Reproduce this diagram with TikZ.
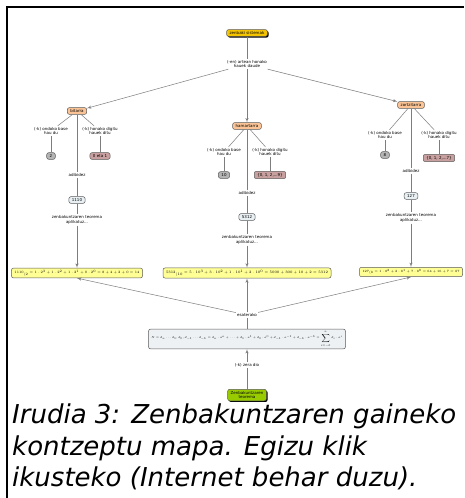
\documentclass[tikz,border=0pt]{standalone}
\usepackage{fontspec}
\setmainfont{DejaVu Sans}
\usetikzlibrary{arrows, positioning, shadows}

\definecolor{gold}{RGB}{245,196,0}
\definecolor{peach}{RGB}{250,196,150}
\definecolor{basegrey}{RGB}{180,180,180}
\definecolor{rose}{RGB}{201,160,160}
\definecolor{paleblue}{RGB}{233,240,244}
\definecolor{formyellow}{RGB}{255,255,150}
\definecolor{nbox}{RGB}{237,241,243}
\definecolor{leaf}{RGB}{153,204,0}
\definecolor{boxedge}{RGB}{90,90,90}
\definecolor{linkgrey}{RGB}{125,125,125}

\begin{document}
\begin{tikzpicture}[
      x=1pt, y=-1pt,
      node distance=10pt, on grid,
      box/.style={rectangle, draw=boxedge, line width=0.5pt, rounded corners=2pt, inner xsep=3pt, inner ysep=1.8pt, font=\fontsize{4}{4.8}\selectfont, align=center},
      sysbox/.style={box, fill=gold, drop shadow={shadow xshift=1.2pt, shadow yshift=-1.2pt, fill=black, opacity=1}},
      system/.style={box, fill=peach},
      basebox/.style={box, fill=basegrey},
      digitbox/.style={box, fill=rose},
      examplebox/.style={box, fill=paleblue},
      formula/.style={box, fill=formyellow, inner ysep=2pt},
      general/.style={box, fill=nbox, inner ysep=1.5pt},
      theorem/.style={box, fill=leaf, drop shadow={shadow xshift=1.2pt, shadow yshift=-1.2pt, fill=black, opacity=1}},
      lbl/.style={font=\fontsize{4}{4.8}\selectfont, align=center, inner sep=1pt},
      caption/.style={font=\fontsize{26}{31.5}\selectfont\itshape, align=left, inner sep=0pt},
      link/.style={draw=linkgrey, line width=0.5pt},
      line/.style={link, -latex'}
    ]

    \path[use as bounding box, fill=white] (0,0) rectangle (464,498);
    \draw[line width=1.5pt] (7,498) -- (7,7) -- (464,7);

    % Top of the map
    \node[sysbox] (sys) at (247,33) {zenbaki sistemak};
    \node[lbl, below=31pt of sys] (artean) {(-en) artean honako\\hauek daude};
    \node[system] (bin) at (77,111) {bitarra};
    \node[system] (dec) at (247,126) {hamartarra};
    \node[system] (oct) at (411,105) {zortzitarra};

    % Binary branch
    \node[lbl, below left=20pt and 26pt of bin] (binbaselbl) {(-k) ondoko base\\hau du};
    \node[lbl, below right=20pt and 23pt of bin] (bindigitlbl) {(-k) honako digitu\\hauek ditu};
    \node[basebox, below=25pt of binbaselbl] (binbase) {2};
    \node[digitbox, below=25pt of bindigitlbl] (bindigit) {0 eta 1};
    \node[lbl, below=64pt of bin] (binex) {adibidez};
    \node[examplebox, below=25pt of binex] (binnum) {1110};
    \node[lbl, below=20pt of binnum] (binthm) {zenbakuntzaren teorema\\aplikatuz...};
    \node[formula, below=53pt of binthm] (binform) {\resizebox{125pt}{!}{$1110_{(2}=1\cdot2^3+1\cdot2^2+1\cdot2^1+0\cdot2^0=8+4+2+0=14$}};

    % Decimal branch
    \node[lbl, below left=26pt and 23pt of dec] (decbaselbl) {(-k) ondoko base\\hau du};
    \node[lbl, below right=26pt and 23pt of dec] (decdigitlbl) {(-k) honako digitu\\hauek ditu};
    \node[basebox, below=23pt of decbaselbl] (decbase) {10};
    \node[digitbox, below=23pt of decdigitlbl] (decdigit) {\{0, 1, 2,...9\}};
    \node[lbl, below=67pt of dec] (decex) {adibidez};
    \node[examplebox, below=24pt of decex] (decnum) {5312};
    \node[lbl, below=23pt of decnum] (decthm) {zenbakuntzaren teorema\\aplikatuz...};
    \node[formula, below=33pt of decthm] (decform) {\resizebox{162pt}{!}{$5312_{(10}=5\cdot10^3+3\cdot10^2+1\cdot10^1+2\cdot10^0=5000+300+10+2=5312$}};

    % Octal branch
    \node[lbl, below left=30pt and 26pt of oct] (octbaselbl) {(-k) ondoko base\\hau du};
    \node[lbl, below right=30pt and 28pt of oct] (octdigitlbl) {(-k) honako digitu\\hauek ditu};
    \node[basebox, below=20pt of octbaselbl] (octbase) {8};
    \node[digitbox, below=23pt of octdigitlbl] (octdigit) {\{0, 1, 2,...7\}};
    \node[lbl, below=66pt of oct] (octex) {adibidez};
    \node[examplebox, below=25pt of octex] (octnum) {127};
    \node[lbl, below=22pt of octnum] (octthm) {zenbakuntzaren teorema\\aplikatuz...};
    \node[formula, below=54pt of octthm] (octform) {\resizebox{97pt}{!}{$127_{(8}=1\cdot8^2+2\cdot8^1+7\cdot8^0=64+16+7=87$}};

    % Theorem
    \node[general] (general) at (247,339) {\resizebox{191pt}{!}{$N=d_n\ldots d_1,d_0,d_{-1}\ldots d_{-k}=d_n\cdot a^n+\ldots+d_1\cdot a^1+d_0\cdot a^0+d_{-1}\cdot a^{-1}+d_{-k}\cdot a^{-k}=\displaystyle\sum_{i=-k}^{n}d_i\cdot a^i$}};
    \node[lbl, above=24pt of general] (esaterako) {esaterako};
    \node[lbl, below=26pt of general] (zera) {(-k) zera dio};
    \node[theorem, below=30pt of zera] (thm) {Zenbakuntzaren\\teorema};

    % Caption
    \node[caption, anchor=north west] (caption) at (12,404) {Irudia 3: Zenbakuntzaren gaineko\\kontzeptu mapa. Egizu klik\\ikusteko (Internet behar duzu).};

    % Connections
    \draw[link] (sys) -- (artean);
    \draw[line] (artean) -- (bin);
    \draw[line] (artean) -- (dec);
    \draw[line] (artean) -- (oct);

    \draw[link] (bin) -- (binbaselbl);
    \draw[link] (binbaselbl) -- (binbase);
    \draw[link] (bin) -- (bindigitlbl);
    \draw[link] (bindigitlbl) -- (bindigit);
    \draw[link] (bin) -- (binex);
    \draw[link] (binex) -- (binnum);
    \draw[link] (binnum) -- (binthm);
    \draw[line] (binthm) -- (binform);

    \draw[link] (dec) -- (decbaselbl);
    \draw[link] (decbaselbl) -- (decbase);
    \draw[link] (dec) -- (decdigitlbl);
    \draw[link] (decdigitlbl) -- (decdigit);
    \draw[link] (dec) -- (decex);
    \draw[link] (decex) -- (decnum);
    \draw[link] (decnum) -- (decthm);
    \draw[line] (decthm) -- (decform);

    \draw[link] (oct) -- (octbaselbl);
    \draw[link] (octbaselbl) -- (octbase);
    \draw[link] (oct) -- (octdigitlbl);
    \draw[link] (octdigitlbl) -- (octdigit);
    \draw[link] (oct) -- (octex);
    \draw[link] (octex) -- (octnum);
    \draw[link] (octnum) -- (octthm);
    \draw[line] (octthm) -- (octform);

    \draw[link] (general) -- (esaterako);
    \draw[line] (esaterako) -- (binform.south);
    \draw[line] (esaterako) -- (decform);
    \draw[line] (esaterako) -- (octform.south);
    \draw[link] (thm) -- (zera);
    \draw[line] (zera) -- (general);
  \end{tikzpicture}
\end{document}
